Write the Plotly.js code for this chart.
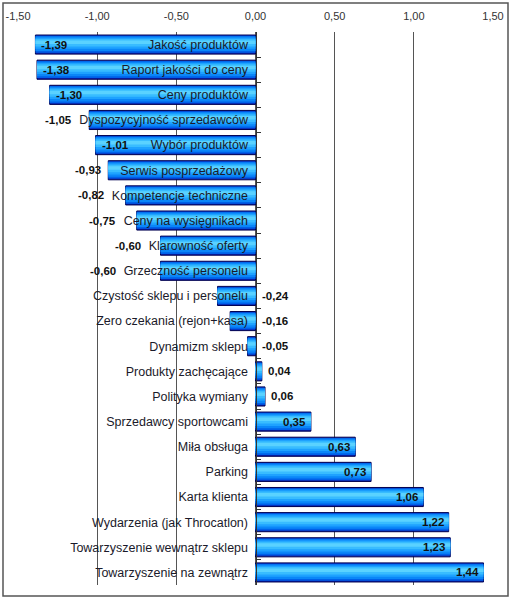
<!DOCTYPE html>
<html>
<head>
<meta charset="utf-8">
<script src="https://cdn.plot.ly/plotly-3.0.1.min.js"></script>
<style>
html,body{margin:0;padding:0;background:#fff;}
#chart{width:510px;height:600px;}
</style>
</head>
<body>
<div id="chart"></div>
<script>
// ---- data ----
var categories = [
  "Jakość produktów",
  "Raport jakości do ceny",
  "Ceny produktów",
  "Dyspozycyjność sprzedawców",
  "Wybór produktów",
  "Serwis posprzedażowy",
  "Kompetencje techniczne",
  "Ceny na wysięgnikach",
  "Klarowność oferty",
  "Grzeczność personelu",
  "Czystość sklepu i personelu",
  "Zero czekania (rejon+kasa)",
  "Dynamizm sklepu",
  "Produkty zachęcające",
  "Polityka wymiany",
  "Sprzedawcy sportowcami",
  "Miła obsługa",
  "Parking",
  "Karta klienta",
  "Wydarzenia (jak Throcatlon)",
  "Towarzyszenie wewnątrz sklepu",
  "Towarzyszenie na zewnątrz"
];
var values = [-1.39, -1.38, -1.30, -1.05, -1.01, -0.93, -0.82, -0.75, -0.60, -0.60,
              -0.24, -0.16, -0.05, 0.04, 0.06, 0.35, 0.63, 0.73, 1.06, 1.22, 1.23, 1.44];
var xTickVals = [-1.5, -1.0, -0.5, 0, 0.5, 1.0, 1.5];
var xTickText = ["-1,50", "-1,00", "-0,50", "0,00", "0,50", "1,00", "1,50"];

// ---- styles / geometry ----
var W = 510, H = 600;
var M = {l: 18, r: 17, t: 32, b: 15};
var xRange = [-1.5, 1.5];
var pxPerUnit = (W - M.l - M.r) / (xRange[1] - xRange[0]);
var catFont = {family: "Liberation Sans, Arial, sans-serif", size: 12.5, color: "#1a1a2a"};
var valFont = {family: "Liberation Sans, Arial, sans-serif", size: 11.5, color: "#111111"};
var labelStandoff = 8;

var cv = document.createElement("canvas").getContext("2d");
function textW(t, font, bold) {
  cv.font = (bold ? "bold " : "") + font.size + "px 'Liberation Sans', Arial";
  return cv.measureText(t).width;
}
function fmt(v) { return v.toFixed(2).replace(".", ","); }

// gradient imitation: overlaid bars, all drawn from the same arrays
var layers = [
  {w: 0.76, shift: 0.00, color: "#0a22b0", line: {color: "#000050", width: 1}},
  {w: 0.68, shift: -0.01, color: "#0060e8"},
  {w: 0.58, shift: -0.03, color: "#0a86f8"},
  {w: 0.44, shift: -0.05, color: "#1ea2ff"},
  {w: 0.30, shift: -0.07, color: "#38bcff"},
  {w: 0.14, shift: -0.09, color: "#5ad2ff"}
];
var traces = layers.map(function (L) {
  return {
    type: "bar", orientation: "h",
    x: values, y: categories,
    width: L.w, offset: -L.w / 2 + L.shift,
    marker: {color: L.color, line: L.line || {width: 0}},
    hoverinfo: "skip", showlegend: false
  };
});

// value labels
var annotations = [];
values.forEach(function (v, i) {
  var txt = fmt(v);
  var vw = textW(txt, valFont, true);
  var barPx = Math.abs(v) * pxPerUnit;
  var a = {x: v, y: categories[i], text: "<b>" + txt + "</b>", showarrow: false,
           font: valFont, xref: "x", yref: "y"};
  if (v < 0) {
    var cw = textW(categories[i], catFont, false) + labelStandoff;
    if (barPx < 50) {
      a.x = 0; a.xanchor = "left"; a.xshift = 4;
    } else if (barPx - cw >= vw + 14) {
      a.xanchor = "left"; a.xshift = 4;
    } else {
      var labelStart = -cw / pxPerUnit;
      a.x = Math.min(v, labelStart); a.xanchor = "right"; a.xshift = -5;
    }
  } else {
    if (barPx >= vw + 12) { a.xanchor = "right"; a.xshift = -3; }
    else { a.xanchor = "left"; a.xshift = 4; }
  }
  annotations.push(a);
});

var layout = {
  width: W, height: H,
  margin: M,
  paper_bgcolor: "#ffffff", plot_bgcolor: "#ffffff",
  barmode: "overlay",
  bargap: 0.25,
  showlegend: false,
  font: {family: "Liberation Sans, Arial, sans-serif", color: "#222"},
  xaxis: {
    range: xRange, side: "top", fixedrange: true,
    tickvals: xTickVals, ticktext: xTickText,
    tickfont: {family: "Liberation Sans, Arial, sans-serif", size: 11, color: "#333"},
    showgrid: true, gridcolor: "#555555", gridwidth: 1,
    zeroline: false, showline: false, ticks: "", ticklabelstandoff: 9
  },
  yaxis: {
    type: "category", range: [categories.length - 0.5, -0.5], fixedrange: true,
    anchor: "free", position: 0.5, side: "left",
    showline: true, linecolor: "#333333", linewidth: 1,
    ticks: "inside", tickson: "boundaries", ticklen: 4, tickcolor: "#333333",
    showgrid: false, zeroline: false,
    tickfont: catFont, ticklabelstandoff: labelStandoff - 3
  },
  annotations: annotations,
  shapes: [
    {type: "rect", xref: "paper", yref: "paper",
     x0: -15 / 475, x1: 1 + 15 / 475, y0: -11 / 553, y1: 1 + 29 / 553,
     line: {color: "#555555", width: 1.5}}
  ]
};

Plotly.newPlot("chart", traces, layout, {staticPlot: true, displayModeBar: false});
</script>
</body>
</html>
